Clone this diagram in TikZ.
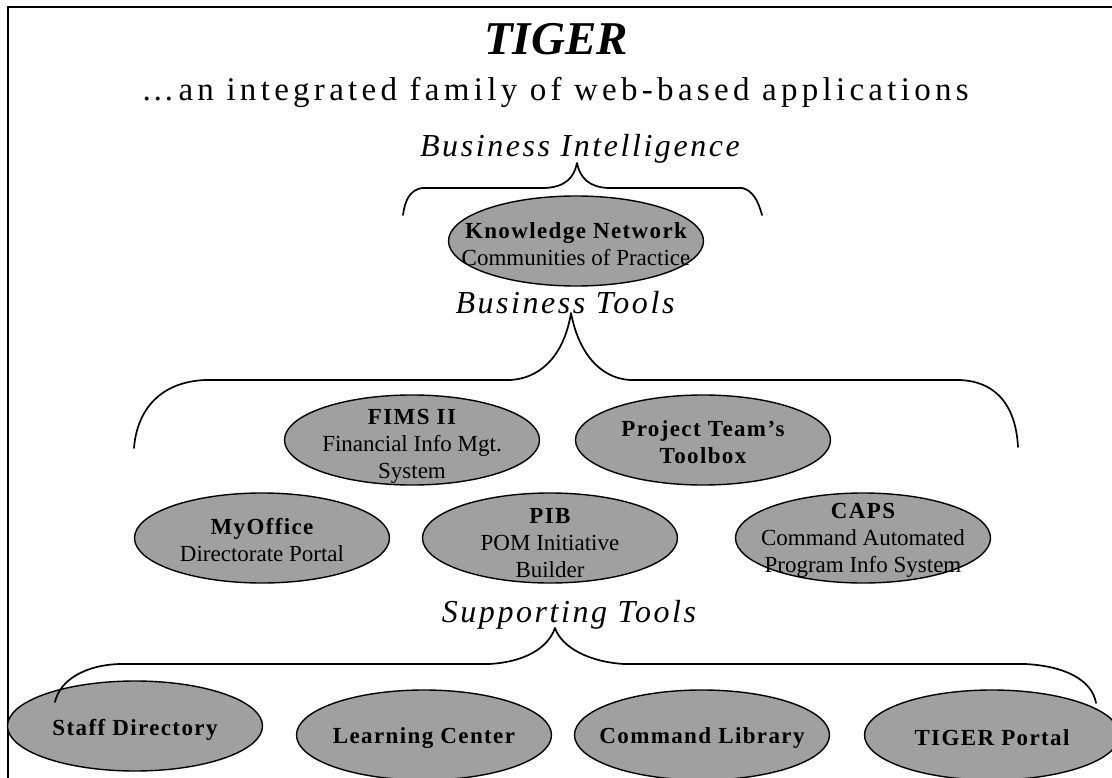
\documentclass[tikz,border=0pt]{standalone}
\usepackage{fontspec}
\setmainfont{Liberation Serif}
\usepackage{xcolor}
\usepackage{tikz}
\usetikzlibrary{positioning,shapes.geometric}

\definecolor{appfill}{RGB}{160,160,160}
\newcommand{\spaced}[1]{\addfontfeature{LetterSpace=#1}}
\newcommand{\appname}[1]{{\bfseries\spaced{6}#1}}

\begin{document}
\begin{tikzpicture}[
    x=1pt, y=-1pt,
    app/.style={ellipse, draw, line width=1.4pt, fill=appfill, minimum width=255pt, minimum height=90pt, inner sep=0pt},
    apptext/.style={align=center, inner sep=0pt, font=\fontsize{23}{27}\selectfont},
    heading/.style={anchor=base, inner sep=0pt, font=\fontsize{32}{36}\selectfont\itshape\spaced{8}},
    brace/.style={line width=1.7pt, line cap=round, line join=round}
  ]
  \useasboundingbox (0,0) rectangle (1112,778);

  % Frame
  \draw[line width=2.5pt] (8,778) -- (8,7) -- (1112,7);

  % Headings
  \node[anchor=base, inner sep=0pt, font=\fontsize{47}{52}\selectfont\bfseries\itshape] (title) at (556,55) {TIGER};
  \node[anchor=base, inner sep=0pt, font=\fontsize{33}{36}\selectfont\spaced{13}] (subtitle) at (555,101) {\dots an integrated family of web-based applications};
  \node[heading] (bizintel) at (580,157) {Business Intelligence};
  \node[heading] (biztools) at (565,313) {Business Tools};
  \node[heading] (support) at (569,622) {Supporting Tools};

  % Applications
  \node[app] (kn)       at (576,241) {};
  \node[app] (fims)     at (412,440) {};
  \node[app] (ptt)      at (703,440) {};
  \node[app] (myoffice) at (262,538) {};
  \node[app] (pib)      at (550,538) {};
  \node[app] (caps)     at (863,538) {};
  \node[app] (staff)    at (135,726) {};
  \node[app] (learning) at (424,735) {};
  \node[app] (library)  at (702,735) {};
  \node[app] (portal)   at (992,735) {};

  % Application labels
  \node[apptext] (kntext)       at ([yshift=-3pt]kn.center)       {\appname{Knowledge Network}\\Communities of Practice};
  \node[apptext] (fimstext)     at ([yshift=-6pt]fims.center)     {\appname{FIMS II}\\Financial Info Mgt.\\System};
  \node[apptext] (ptttext)      at ([yshift=-2pt]ptt.center)      {\appname{Project Team's}\\\appname{Toolbox}};
  \node[apptext] (myofficetext) at ([yshift=-2pt]myoffice.center) {\appname{MyOffice}\\Directorate Portal};
  \node[apptext] (pibtext)      at ([yshift=-5pt]pib.center)      {\appname{PIB}\\POM Initiative\\Builder};
  \node[apptext] (capstext)     at ([yshift=-2pt]caps.center)     {\appname{CAPS}\\Command Automated\\Program Info System};
  \node[apptext] (stafftext)    at ([yshift=-4pt]staff.center)    {\appname{Staff Directory}};
  \node[apptext] (learningtext) at ([yshift=-3pt]learning.center) {\appname{Learning Center}};
  \node[apptext] (librarytext)  at ([yshift=-3pt]library.center)  {\appname{Command Library}};
  \node[apptext] (portaltext)   at ([yshift=-3pt]portal.center)   {\appname{TIGER Portal}};

  % Braces
  \draw[brace] (403,215) .. controls (405,200) and (410,190) .. (422,188) -- (545,188)
    .. controls (565,187) and (574,178) .. (577,163)
    .. controls (580,178) and (589,187) .. (608,188) -- (742,188)
    .. controls (752,190) and (758,200) .. (762,215);
  \draw[brace] (134,448) .. controls (137,410) and (160,382) .. (205,380) -- (510,380)
    .. controls (545,378) and (565,350) .. (571,313)
    .. controls (578,350) and (598,378) .. (630,380) -- (960,380)
    .. controls (1000,382) and (1016,410) .. (1018,447);
  \draw[brace] (55,702) .. controls (60,680) and (85,665) .. (120,664) -- (489,664)
    .. controls (525,662) and (548,648) .. (555,628)
    .. controls (562,648) and (590,662) .. (624,664) -- (1025,664)
    .. controls (1065,666) and (1092,680) .. (1096,703);
\end{tikzpicture}
\end{document}
